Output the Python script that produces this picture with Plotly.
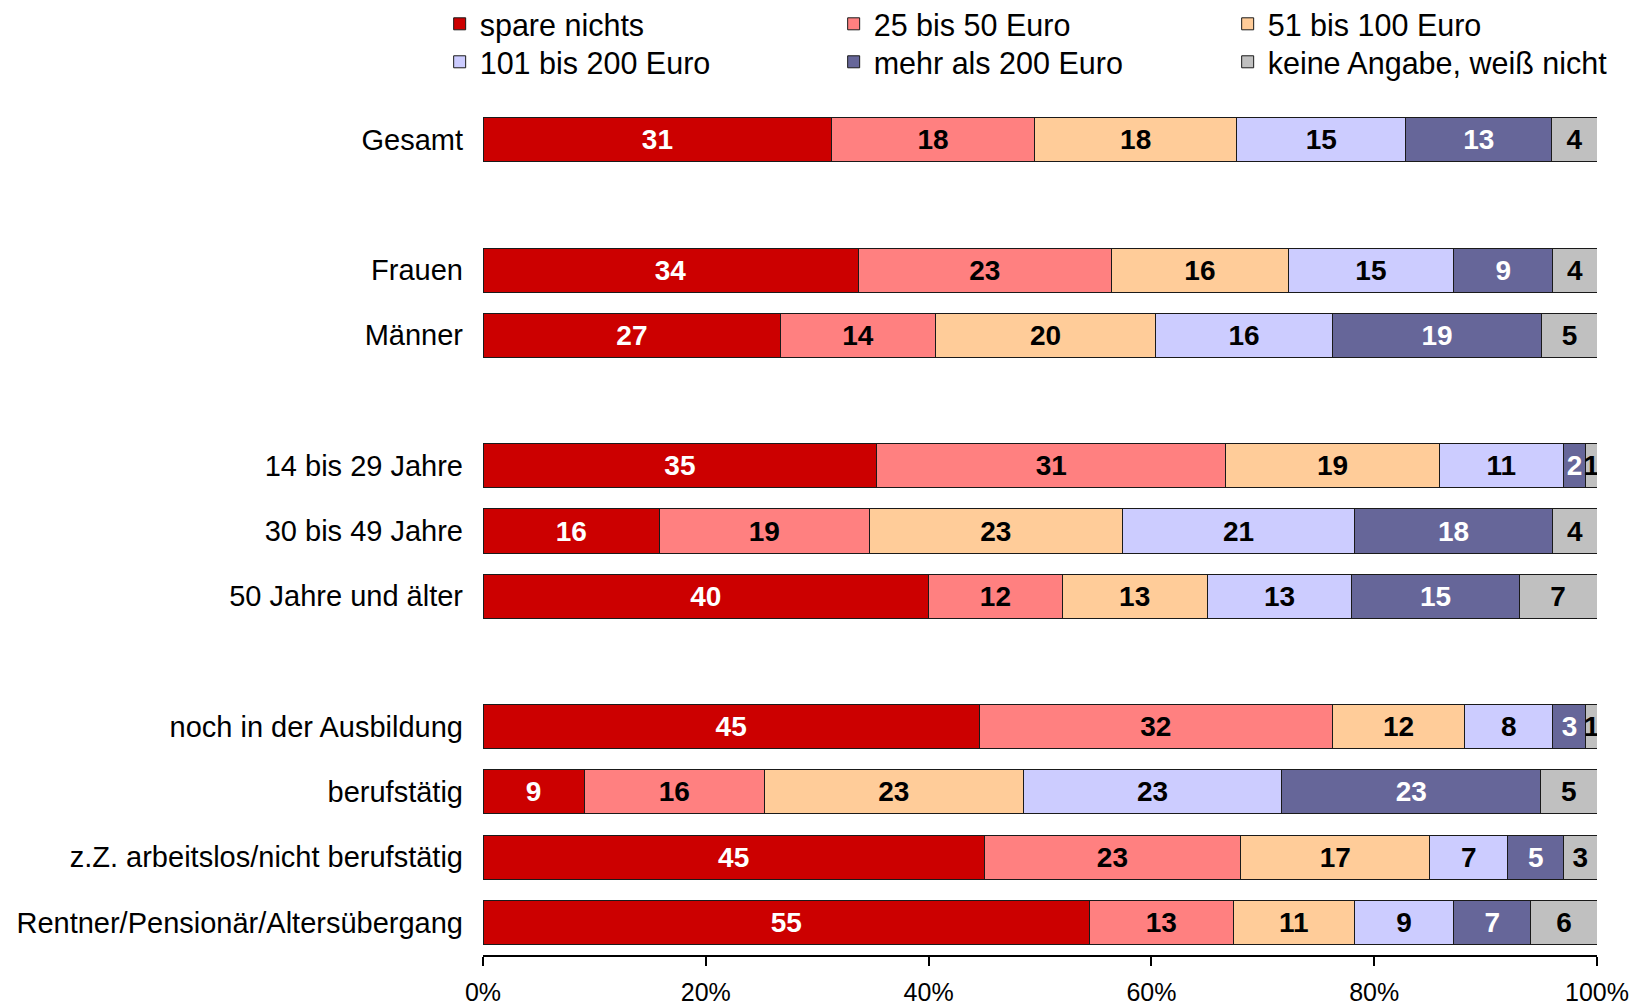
import plotly.graph_objects as go

# ---- data ----
rows = ["Gesamt", "Frauen", "Männer", "14 bis 29 Jahre", "30 bis 49 Jahre",
        "50 Jahre und älter", "noch in der Ausbildung", "berufstätig",
        "z.Z. arbeitslos/nicht berufstätig", "Rentner/Pensionär/Altersübergang"]
# display order top->bottom with blank spacer slots between groups
category_order = ["Gesamt", " ", "Frauen", "Männer", "  ", "14 bis 29 Jahre",
                  "30 bis 49 Jahre", "50 Jahre und älter", "   ",
                  "noch in der Ausbildung", "berufstätig",
                  "z.Z. arbeitslos/nicht berufstätig",
                  "Rentner/Pensionär/Altersübergang"]

series_names = ["spare nichts", "25 bis 50 Euro", "51 bis 100 Euro",
                "101 bis 200 Euro", "mehr als 200 Euro",
                "keine Angabe, weiß nicht"]

spare_nichts = [31, 34, 27, 35, 16, 40, 45, 9, 45, 55]
euro_25_50 = [18, 23, 14, 31, 19, 12, 32, 16, 23, 13]
euro_51_100 = [18, 16, 20, 19, 23, 13, 12, 23, 17, 11]
euro_101_200 = [15, 15, 16, 11, 21, 13, 8, 23, 7, 9]
mehr_200 = [13, 9, 19, 2, 18, 15, 3, 23, 5, 7]
keine_angabe = [4, 4, 5, 1, 4, 7, 1, 5, 3, 6]

tick_vals = [0, 20, 40, 60, 80, 100]
tick_text = ["0%", "20%", "40%", "60%", "80%", "100%"]

# ---- styles ----
colors = ["#CC0000", "#FF8080", "#FFCC99", "#CCCCFF", "#666699", "#C0C0C0"]
label_colors = ["white", "black", "black", "black", "white", "black"]
legends = ["legend", "legend", "legend", "legend2", "legend2", "legend2"]
FONT = "Liberation Sans, Arial, sans-serif"

all_series = [spare_nichts, euro_25_50, euro_51_100, euro_101_200, mehr_200, keine_angabe]

fig = go.Figure()
for name, vals, col, lc, lg in zip(series_names, all_series, colors, label_colors, legends):
    fig.add_trace(go.Bar(
        name=name, y=rows, x=vals, orientation="h",
        marker=dict(color=col, line=dict(color="#1a1a1a", width=1)),
        text=[str(v) for v in vals], textposition="inside",
        insidetextanchor="middle", constraintext="none",
        textfont=dict(family=FONT, size=28, color=lc, weight="bold"),
        width=0.675, legend=lg, hoverinfo="name+x+y",
    ))

legend_common = dict(orientation="h", x=-0.0389, xanchor="left", yanchor="middle",
                     entrywidth=349, font=dict(size=30.5, family=FONT),
                     bgcolor="rgba(0,0,0,0)", traceorder="normal", itemclick=False)

fig.update_layout(
    width=1639, height=1007,
    barmode="stack", barnorm="percent",
    paper_bgcolor="white", plot_bgcolor="white",
    margin=dict(l=475, r=50, t=99, b=60, autoexpand=False),
    font=dict(family=FONT, color="black"),
    uniformtext=dict(minsize=28, mode="show"),
    legend=dict(y=1.0979, **legend_common),
    legend2=dict(y=1.0531, **legend_common),
    showlegend=True,
)
fig.update_xaxes(
    range=[0, 100], tickvals=tick_vals, ticktext=tick_text,
    showgrid=False, zeroline=False, showline=True, linecolor="black", linewidth=1.5,
    ticks="outside", ticklen=9, tickwidth=1.5, tickcolor="black",
    tickfont=dict(size=25, family=FONT, color="black"), automargin=False,
    ticklabelstandoff=5,
)
fig.update_yaxes(
    type="category", categoryorder="array", categoryarray=category_order,
    range=[12.5, -0.5], showgrid=False, zeroline=False, showline=False,
    ticks="", tickfont=dict(size=29, family=FONT, color="black"),
    ticklabelstandoff=19, automargin=False,
)

fig.write_html("out.html")
